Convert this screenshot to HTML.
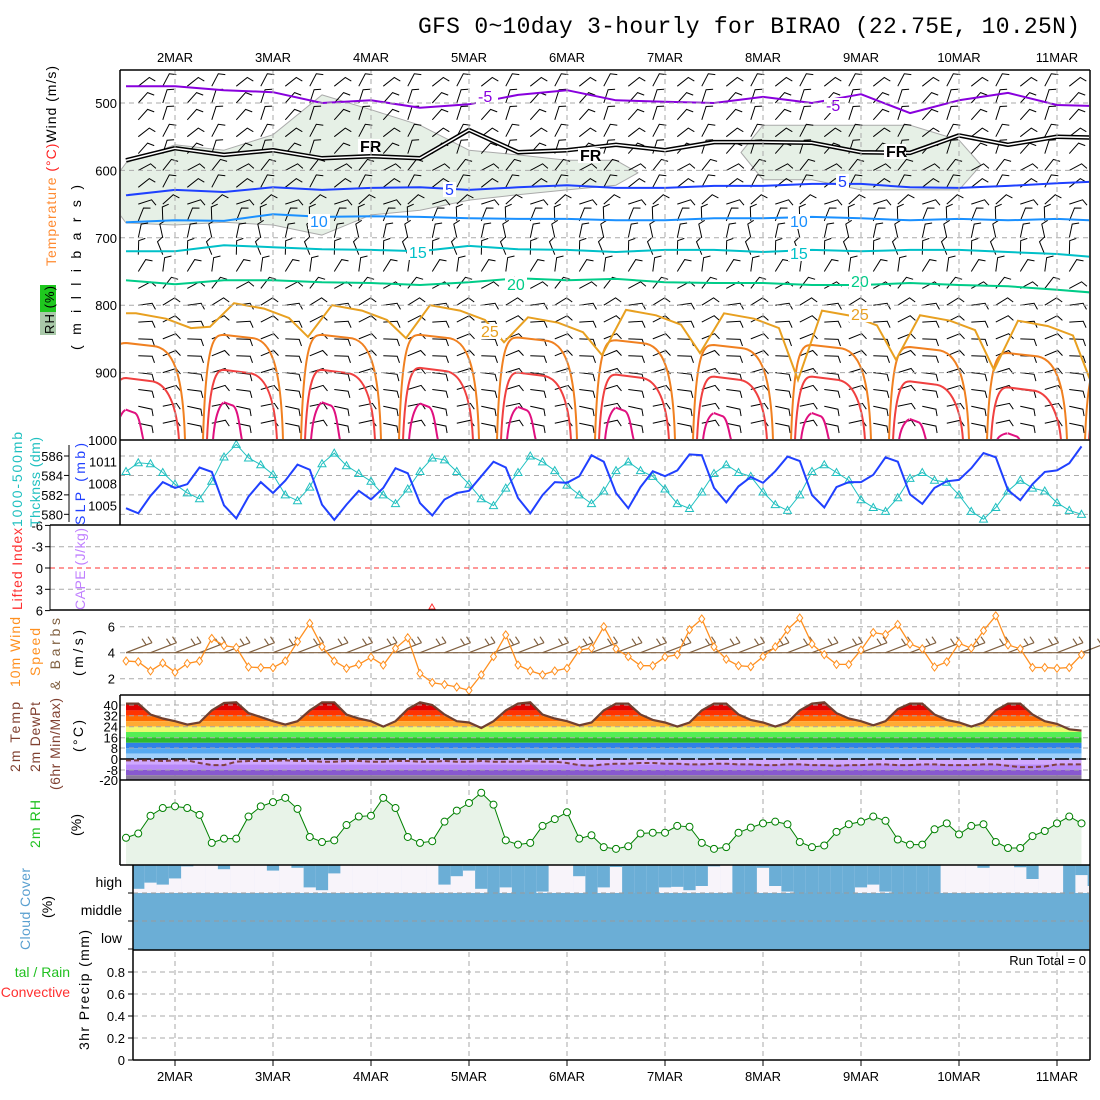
<!DOCTYPE html>
<html><head><meta charset="utf-8"><title>GFS meteogram BIRAO</title>
<style>html,body{margin:0;padding:0;background:#fff;}svg{display:block;}</style></head>
<body>
<svg id="chart" width="1100" height="1100" xmlns="http://www.w3.org/2000/svg" font-family="Liberation Sans, sans-serif" font-size="13">
<rect x="0" y="0" width="1100" height="1100" fill="#fff"/>
<text x="418" y="33" font-family="Liberation Mono, monospace" font-size="23" textLength="662">GFS 0~10day 3-hourly for BIRAO (22.75E, 10.25N)</text>
<defs>
<clipPath id="clipTop"><rect x="121" y="71" width="968" height="368"/></clipPath>
<clipPath id="clipAll"><rect x="121" y="0" width="968" height="1100"/></clipPath>
</defs>
<g id="layer"></g>
<text transform="translate(56,266) rotate(-90)" font-size="14" textLength="200"><tspan fill="#ff8a30">Temperature </tspan><tspan fill="#ff2020">(°C)</tspan><tspan fill="#000">Wind (m/s)</tspan></text>
<rect x="40" y="285" width="16" height="27" fill="#1ec81e"/>
<rect x="40" y="312" width="16" height="23" fill="#a9c9a9"/>
<text transform="translate(54,334) rotate(-90)" font-size="13" textLength="48">RH (%)</text>
<text transform="translate(81,350) rotate(-90)" font-size="14" textLength="165">(millibars)</text>
<text transform="translate(22,527) rotate(-90)" font-size="14" fill="#20c0c0" textLength="95">1000-500mb</text>
<text transform="translate(40,527) rotate(-90)" font-size="14" fill="#20c0c0" textLength="90">Thcknss (dm)</text>
<text transform="translate(85,525) rotate(-90)" font-size="14" fill="#2040ff" textLength="82">SLP (mb)</text>
<text transform="translate(22,610) rotate(-90)" font-size="14" fill="#ff3030" textLength="82">Lifted Index</text>
<text transform="translate(85,610) rotate(-90)" font-size="14" fill="#c080ff" textLength="82">CAPE (J/kg)</text>
<text transform="translate(20,687) rotate(-90)" font-size="14" fill="#ff9020" textLength="70">10m Wind</text>
<text transform="translate(40,676) rotate(-90)" font-size="14" textLength="48"><tspan fill="#ff9020">Speed</tspan></text>
<text transform="translate(60,690) rotate(-90)" font-size="14" fill="#806040" textLength="72">&amp; Barbs</text>
<text transform="translate(83,676) rotate(-90)" font-size="14" textLength="46">(m/s)</text>
<text transform="translate(20,772) rotate(-90)" font-size="14" fill="#804030" textLength="70">2m Temp</text>
<text transform="translate(40,772) rotate(-90)" font-size="14" fill="#804030" textLength="70">2m DewPt</text>
<text transform="translate(60,790) rotate(-90)" font-size="14" fill="#804030" textLength="92">(6hr Min/Max)</text>
<text transform="translate(83,752) rotate(-90)" font-size="14" textLength="32">(°C)</text>
<text transform="translate(40,848) rotate(-90)" font-size="14" fill="#20c020" textLength="48">2m RH</text>
<text transform="translate(81,836) rotate(-90)" font-size="14" textLength="22">(%)</text>
<text transform="translate(30,950) rotate(-90)" font-size="14" fill="#5aa0d0" textLength="82">Cloud Cover</text>
<text transform="translate(52,918) rotate(-90)" font-size="14" textLength="22">(%)</text>
<text x="122" y="887" text-anchor="end" font-size="14">high</text>
<text x="122" y="915" text-anchor="end" font-size="14">middle</text>
<text x="122" y="943" text-anchor="end" font-size="14">low</text>
<text transform="translate(89,1050) rotate(-90)" font-size="14" textLength="120">3hr Precip (mm)</text>
<text x="70" y="977" text-anchor="end" font-size="14" fill="#20c020">tal / Rain</text>
<text x="70" y="997" text-anchor="end" font-size="14" fill="#ff3030">Convective</text>
<text x="1086" y="965" text-anchor="end" font-size="13">Run Total = 0</text>
</svg>
<script>
// ---------- data ----------
const dateLabels = ["2MAR","3MAR","4MAR","5MAR","6MAR","7MAR","8MAR","9MAR","10MAR","11MAR"];
const pressureTicks = [500,600,700,800,900,1000];
const isoM5 = [475,475,481,484,500,496,507,502,488,481,496,498,500,491,500,487,515,496,485,503,505];
const isoFR = [585,567,577,570,582,579,582,540,573,570,562,570,558,558,559,573,574,548,562,550,552];
const iso5  = [637,629,632,625,629,626,625,629,625,622,626,626,623,623,620,620,625,626,623,619,616];
const iso10 = [677,674,675,665,669,668,669,671,672,672,674,674,671,671,669,671,674,672,674,672,675];
const iso15 = [720,720,711,714,717,718,720,712,717,718,721,718,718,721,718,720,718,718,721,724,730];
const iso20 = [763,769,763,763,766,767,770,766,760,763,761,766,767,767,770,770,767,770,772,777,783];
const rhTop = [589,562,570,547,488,510,533,570,577,585,585,0,0,533,533,533,533,555,0,0,0];
const rhBot = [678,681,677,681,696,666,659,644,636,629,622,0,0,614,614,629,629,629,0,0,0];
const arch25Peak = [812,797,800,800,818,807,812,808,815,823,847];
const arch25Dip  = [0,832,847,849,855,874,871,911,881,896,918];
const arch30Top = [856,844,844,844,848,852,859,859,862,871,880];
const arch35Top = [908,896,896,893,900,903,906,906,913,922,935];
const arch40Top = [955,944,944,946,951,952,960,960,969,990,1000];
const barbLevels = [475,500,525,550,575,600,625,650,675,700,725,750,775,800,825,850,875,900,925,950,975];
const barbDir = [40,30,30,40,30,50,40,60,10,0,350,20,50,70,75,80,80,85,85,90,90];
const slp = [1004.6,1003.9,1006.3,1008.2,1007.4,1007.9,1010.2,1009.6,1005,1003.2,1006.2,1008.2,1006.7,1008.4,1010.6,1009.9,1005.1,1003,1005.1,1007,1005.8,1007.4,1010.1,1009.4,1005.3,1003.6,1005.8,1006.7,1007,1009,1011,1010.2,1006,1003.9,1006.4,1008.2,1008.1,1009,1011.9,1011,1006.7,1004.6,1007.5,1009.7,1009,1009.8,1012,1011.9,1007.4,1005.4,1007.6,1008.9,1008.1,1009.7,1011.7,1011.1,1006.4,1004.7,1007.5,1008.2,1008.2,1009.2,1011.6,1011,1006.5,1005.2,1007.4,1008.3,1008.5,1010.1,1012.2,1011.6,1007.1,1005.7,1007.9,1009.6,1009.8,1010.8,1013.1];
const thick = [584.4,585.3,585.2,584.3,583.1,582.2,581.6,583.4,585.9,587.2,585.8,585.1,584.1,582.0,581.4,582.8,585.2,586.3,585,584.2,583.4,582,581.1,582.6,584.4,585.8,585.6,584.4,583.1,581.6,580.9,582.7,584.3,586,585.4,584.5,583,582,581.1,582.4,584.5,585.4,584.5,583.9,582.6,581.1,580.6,582.3,584.2,585.1,584.3,583.9,582.3,581,580.4,582,584.4,585.1,584.3,583.5,581.5,580.7,580.3,581.7,583.7,584.3,583.5,583.3,582,580.3,579.5,580.7,582.4,583.5,582.7,582.4,581.2,580.4,580];
const wspd = [3.36,3.3,2.6,3.2,2.5,3.17,3.36,5.1,4.55,4.4,2.9,2.85,2.85,3.36,4.85,6.26,4.46,3.36,2.8,3.1,3.65,3.05,4.33,5.15,2.4,1.7,1.55,1.36,1.1,2.3,3.7,5.37,3.05,2.6,2.3,2.6,2.8,4.2,4.35,6.0,4.3,3.7,3.0,3.0,3.67,3.85,5.77,6.6,4.45,3.5,3.0,2.93,3.7,4.45,5.77,6.67,4.67,3.85,3.1,3.1,4.2,5.55,5.4,6.17,4.67,4.3,2.9,3.3,4.72,4.35,5.7,6.84,4.6,4.3,2.86,2.86,2.8,2.86,3.85];
const temp2m = [41,41,33,30,28,25.5,27,36,41.5,42,34,31,28,25.5,28,36,42,42,33,30,28,24,28,37,42,40,33,28,27,23,28,36,41,42,33,30,28,25,27,36,41,41,33,29,27,24,27,36,41,41,33,29,27,24,27,36,41,42,34,30,28,25,28,37,41,41,33,29,27,24,27,36,41,41,33,28,26,22,21];
const dewpt = [-1,-1,-1,-1.5,-1,-1,-3,-4.5,-4.5,-2,-1.5,-1.5,-1.5,-1,-1.5,-1.5,-2,-2,-1.5,-1.5,-2,-2,-1.5,-1.5,-2,-2,-1.5,-2,-2,-1.5,-2,-2,-2,-1.5,-2,-2,-3,-4.5,-5,-4,-3.5,-3.5,-3,-3,-3.5,-3.5,-4,-4,-3.5,-3.5,-4,-4,-4.5,-4.5,-4,-4,-4.5,-4.5,-5,-4.5,-4.5,-4,-4,-4.5,-4.5,-4,-4,-4.5,-4.5,-4.5,-4,-4,-5,-6,-6,-5.5,-4,-4,-4];
const rh2m = [32,37,58,67,69,67,59,26,31,31,57,69,74,79,66,33,27,29,47,57,58,79,67,33,26,28,51,64,73,85,71,29,24,26,46,54,62,31,35,21,19,22,37,38,38,46,45,26,19,21,38,44,49,51,48,27,21,23,39,48,51,57,52,30,24,24,42,49,36,46,48,27,20,20,34,40,49,57,49];
const highCloud = [85,85,63,70,48,5,0,0,15,0,0,0,20,0,10,80,90,30,0,0,0,0,0,0,0,0,70,40,20,85,100,80,100,100,95,0,0,40,100,80,7,100,100,100,80,78,90,75,5,0,100,100,10,75,95,100,100,100,100,100,80,70,95,100,100,100,100,0,0,0,10,0,0,8,50,0,0,100,36,75];
const slpTicks = [1005,1008,1011];
const thickTicks = [580,582,584,586];
const liTicks = [-6,-3,0,3,6];
const windTicks = [2,4,6];
const tempTicks = [[40,705],[32,715.7],[24,726.7],[16,737.7],[8,748],[0,759],[-8,770],[-20,780]];
const precipTicks = [0,0.2,0.4,0.6,0.8];
const tempBands = [[40,60,"#b00000"],[36,40,"#e00000"],[32,36,"#ff3300"],[28,32,"#ff6a00"],[24,28,"#ffaa33"],[20,24,"#f0f870"],[16,20,"#55ee55"],[12,16,"#2dbb2d"],[8,12,"#3080e8"],[4,8,"#55a8f0"],[0,4,"#a0d0fa"],[-4,0,"#d0a8ff"],[-8,-4,"#b888f8"],[-12,-8,"#8858d0"],[-30,-12,"#8a7a9a"]];

// ---------- scales ----------
const X = i => 126 + 12.25*i;
const yP = p => 103 + (p-500)*0.674;
const ySlp = v => 461.7 - (v-1011)*7.27;
const yTh = t => 456 + (586-t)*9.72;
const yLI = v => 568 + v*7.1;
const yW = v => 704.7 - 13*v;
const yT = t => 759 - 1.35*t;
const yRH = r => 865 - 0.85*r;
const yPr = v => 1060 - 110*v;
const dateX = k => 175 + 98*k;

const NS = "http://www.w3.org/2000/svg";
const layer = document.getElementById('layer');
function mk(tag, attrs, parent){ const e=document.createElementNS(NS,tag); for(const k in attrs) e.setAttribute(k,attrs[k]); (parent||layer).appendChild(e); return e; }
const pts = (arr, fy, fx) => arr.map((v,i)=> (fx?fx(i):X(i)).toFixed(1)+","+fy(v).toFixed(1)).join(" ");

// ---------- top panel ----------
const topG = mk('g',{'clip-path':'url(#clipTop)'});


let kk=0;
while(kk<rhTop.length){
  if(rhTop[kk]>0){
    let k1=kk; while(k1+1<rhTop.length && rhTop[k1+1]>0) k1++;
    const up=[], dn=[];
    const xs = j=>X(j*4);
    up.push([xs(kk)-22,(yP(rhTop[kk])+yP(rhBot[kk]))/2]);
    for(let j=kk;j<=k1;j++){ up.push([xs(j),yP(rhTop[j])]); dn.unshift([xs(j),yP(rhBot[j])]); }
    up.push([xs(k1)+22,(yP(rhTop[k1])+yP(rhBot[k1]))/2]);
    const poly = mk('polygon',{points:up.concat(dn).map(p=>p[0].toFixed(1)+","+p[1].toFixed(1)).join(" "),fill:"#e6f0e6",stroke:"#aaaaaa","stroke-width":1,"stroke-linejoin":"round"},topG);
    
    
    kk=k1+1;
  } else kk++;
}
pressureTicks.forEach(p=>{ if(p<1000){ const g=mk('line',{x1:120,x2:1090,y1:yP(p),y2:yP(p),stroke:"#aaa","stroke-dasharray":"5,4"});
    }});
const barbs = mk('g',{stroke:"#000","stroke-width":1,fill:"none"},topG);


for(let i=1;i<79;i+=2){
  barbLevels.forEach((L,li)=>{
    const d = (barbDir[li] + ((i%4===1)?12:-12))*Math.PI/180;
    const x0=X(i), y0=yP(L), len=14;
    const dx=Math.sin(d)*len, dy=-Math.cos(d)*len;
    const x1=x0+dx, y1=y0+dy;
    const bx=x1+Math.sin(d+1.2)*7, by=y1-Math.cos(d+1.2)*7;
    mk('path',{d:`M${x0.toFixed(1)},${y0.toFixed(1)}L${x1.toFixed(1)},${y1.toFixed(1)}L${bx.toFixed(1)},${by.toFixed(1)}`},barbs);
  });
}
function archPath(arr, l, r, color, w, name){
  const g = mk('g',{fill:"none",stroke:color,"stroke-width":w},topG);
  
  
  arr.forEach((p,d)=>{
    if(p>=1000) return;
    const c=X(8*d), ty=yP(p);
    mk('path',{d:`M${c-l},440 C${c-l+3},${ty} ${c-l+12},${ty} ${c},${ty} L${c+r*0.45},${ty+3} C${c+r*0.8},${ty+4} ${c+r-2},${ty+30} ${c+r},440`},g);
  });
}
archPath(arch30Top,21,59,"#f08020",2,'isotherm-30-arches');
archPath(arch35Top,17,53,"#f04040",2,'isotherm-35-arches');
archPath(arch40Top,11,18,"#e0107f",2,'isotherm-40-arches');
(function(){
  let d = `M${X(0)},${yP(arch25Peak[0])}`;
  arch25Peak.forEach((p,k)=>{
    const c=X(8*k);
    if(arch25Dip[k]>0) d+=` L${c-14},${yP(arch25Dip[k]).toFixed(1)}`;
    d+=` L${c+10},${yP(p).toFixed(1)} L${c+40},${yP(p+8).toFixed(1)} L${c+65},${yP(p+22).toFixed(1)}`;
  });
  const e=mk('path',{d:d,fill:"none",stroke:"#e8a020","stroke-width":2},topG);
  
  
})();
function iso(arr,color,name,w){
  const e=mk('polyline',{points:pts(arr,yP,j=>X(4*j)),fill:"none",stroke:color,"stroke-width":w||2,"stroke-linejoin":"round"},topG);
  
  
  return e;
}
iso(isoM5,"#8800dd",'isotherm-minus5');
iso(isoFR,"#000",'freezing-level',4.5);
iso(isoFR,"#fff",'freezing-level-core',1.5);
iso(iso5,"#1e40ff",'isotherm-5');
iso(iso10,"#1a90ff",'isotherm-10');
iso(iso15,"#00c0c8",'isotherm-15');
iso(iso20,"#00cc88",'isotherm-20');
[["-5",478,102,"#8800dd"],["-5",826,111,"#8800dd"],["FR",360,152,"#000"],["FR",580,161,"#000"],["FR",886,157,"#000"],["5",445,195,"#1e40ff"],["5",838,187,"#1e40ff"],["10",310,227,"#1a90ff"],["10",790,227,"#1a90ff"],["15",409,258,"#00c0c8"],["15",790,259,"#00c0c8"],["20",507,290,"#00cc88"],["20",851,287,"#00cc88"],["25",481,337,"#e8a020"],["25",851,320,"#e8a020"]].forEach(l=>{
  const bg=mk('rect',{x:l[1]-2,y:l[2]-13,width:l[0].length*9+4,height:15,fill:"#fff"},topG);
   
  const t=mk('text',{x:l[1],y:l[2],fill:l[3],"font-size":16,"font-weight":l[0]==="FR"?"bold":"normal"},topG);
  t.textContent=l[0];
   
});
pressureTicks.forEach(p=>{ const t=mk('text',{x:117,y:yP(p)+5,"text-anchor":"end","font-size":13}); t.textContent=p;
    });

// ---------- vertical date grid ----------
dateLabels.forEach((d,k)=>{
  const g=mk('line',{x1:dateX(k),x2:dateX(k),y1:70,y2:1060,stroke:"#aaa","stroke-dasharray":"5,4"});
   
  const t1=mk('text',{x:dateX(k),y:62,"text-anchor":"middle","font-size":13}); t1.textContent=d;
   
  const t2=mk('text',{x:dateX(k),y:1081,"text-anchor":"middle","font-size":13}); t2.textContent=d;
   
  mk('line',{x1:dateX(k),x2:dateX(k),y1:1060,y2:1066,stroke:"#000"});
});

// ---------- thickness / SLP ----------
thickTicks.forEach(t=>{ const g=mk('line',{x1:120,x2:1090,y1:yTh(t),y2:yTh(t),stroke:"#aaa","stroke-dasharray":"5,4"});
   
  const l=mk('text',{x:63,y:yTh(t)+5,"text-anchor":"end"}); l.textContent=t;
   
  mk('line',{x1:64,x2:69,y1:yTh(t),y2:yTh(t),stroke:"#000"}); });
mk('line',{x1:69,x2:69,y1:445,y2:522,stroke:"#000"});
slpTicks.forEach(v=>{ const l=mk('text',{x:117,y:ySlp(v)+5,"text-anchor":"end"}); l.textContent=v;
    });
(function(){
  const th=mk('polyline',{points:pts(thick,yTh),fill:"none",stroke:"#20c0c0","stroke-width":1});
   
  thick.forEach((v,i)=>{ const m=mk('path',{d:`M${X(i)},${yTh(v)-4}l4,7h-8z`,fill:"none",stroke:"#20c0c0"});
      });
  const s=mk('polyline',{points:pts(slp,ySlp),fill:"none",stroke:"#2040ff","stroke-width":2});
   
})();

// ---------- lifted index ----------
liTicks.forEach(v=>{ if(v!==-6&&v!==6){ const g=mk('line',{x1:50,x2:1090,y1:yLI(v),y2:yLI(v),stroke:v===0?"#ff3030":"#aaa","stroke-dasharray":"5,4"});
    }
  const l=mk('text',{x:43,y:yLI(v)+5,"text-anchor":"end"}); l.textContent=v===0?"0":(v<0?"-"+(-v):v);
   
  mk('line',{x1:45,x2:50,y1:yLI(v),y2:yLI(v),stroke:"#000"}); });
mk('line',{x1:50,x2:50,y1:525,y2:610,stroke:"#000"});
mk('path',{d:"M432,604l3,5h-6z",fill:"none",stroke:"#ff3030"});

// ---------- 10m wind ----------
windTicks.forEach(v=>{ const g=mk('line',{x1:120,x2:1090,y1:yW(v),y2:yW(v),stroke:"#aaa","stroke-dasharray":"5,4"});
   
  const l=mk('text',{x:115,y:yW(v)+5,"text-anchor":"end"}); l.textContent=v;
    });
(function(){
  const g=mk('g',{stroke:"#806040","stroke-width":1.2,fill:"none"});
   
  mk('line',{x1:126,x2:1090,y1:yW(4),y2:yW(4)},g);
  for(let i=0;i<79;i+=2){
    const x0=X(i), y0=yW(4);
    mk('path',{d:`M${x0},${y0}L${x0+26},${y0-10}M${x0+26},${y0-10}l-4,-6M${x0+20},${y0-8}l-4,-6`},g);
  }
  const l=mk('polyline',{points:pts(wspd,yW),fill:"none",stroke:"#ff9020","stroke-width":1.3});
   
  wspd.forEach((v,i)=>{ const m=mk('path',{d:`M${X(i)},${yW(v)-4}l3,4l-3,4l-3,-4z`,fill:"#fff",stroke:"#ff9020"});
      });
})();

// ---------- 2m temperature ----------
(function(){
  const poly = temp2m.map((t,i)=>X(i).toFixed(1)+","+yT(t).toFixed(1)).join(" ")+` ${X(78)},780 ${X(0)},780`;
  const cp=mk('clipPath',{id:"clipT"}); mk('polygon',{points:poly},cp);
  const g=mk('g',{'clip-path':'url(#clipT)'});
   
  tempBands.forEach(b=>{ mk('rect',{x:120,y:yT(b[1]),width:970,height:yT(b[0])-yT(b[1]),fill:b[2]},g); });
  tempTicks.forEach(t=>{ const gl=mk('line',{x1:120,x2:1090,y1:t[1],y2:t[1],stroke:"#aaa","stroke-dasharray":"5,4"});
     
    const l=mk('text',{x:118,y:t[1]+5,"text-anchor":"end"}); l.textContent=t[0];
      });
  mk('line',{x1:120,x2:1090,y1:yT(0),y2:yT(0),stroke:"#000","stroke-width":1.5,"stroke-dasharray":"14,3"});
  const tl=mk('polyline',{points:pts(temp2m,yT),fill:"none",stroke:"#704030","stroke-width":2.2});
   
  const dl=mk('polyline',{points:pts(dewpt,yT),fill:"none",stroke:"#804040","stroke-width":2,"stroke-dasharray":"5,3"});
   
})();

// ---------- 2m RH ----------
(function(){
  const area=mk('polygon',{points:pts(rh2m,yRH)+` ${X(78)},865 ${X(0)},865`,fill:"#e8f3e8"});
   
  const l=mk('polyline',{points:pts(rh2m,yRH),fill:"none",stroke:"#008000","stroke-width":1});
   
  rh2m.forEach((v,i)=>{ const m=mk('circle',{cx:X(i),cy:yRH(v),r:3.5,fill:"#fff",stroke:"#008000"});
      });
})();

// ---------- cloud cover ----------
(function(){
  const g=mk('g',{'clip-path':'url(#clipAll)'});
   
  const bg=mk('rect',{x:133,y:865,width:957,height:85,fill:"#6baed6"},g);
   
  highCloud.forEach((c,i)=>{
    const x0=Math.max(133,X(i)-6.125), x1=Math.min(1090,X(i)+6.125);
    if(x1<=x0) return;
    const r=mk('rect',{x:x0,y:865,width:x1-x0+0.3,height:28,fill:"#f8f4fa"},g);
     
    const b=mk('rect',{x:x0,y:865,width:x1-x0+0.3,height:28*c/100,fill:"#6baed6"},g);
     
  });
  [893,921].forEach(y=>mk('line',{x1:133,x2:1090,y1:y,y2:y,stroke:"#999","stroke-dasharray":"5,4"},g));
  [865,893,921,949].forEach(y=>mk('line',{x1:128,x2:133,y1:y,y2:y,stroke:"#000"}));
})();

// ---------- precip ----------
precipTicks.forEach(v=>{ if(v>0){ const g=mk('line',{x1:133,x2:1090,y1:yPr(v),y2:yPr(v),stroke:"#aaa","stroke-dasharray":"5,4"});
    }
  const l=mk('text',{x:125,y:yPr(v)+5,"text-anchor":"end"}); l.textContent=v;
   
  mk('line',{x1:128,x2:133,y1:yPr(v),y2:yPr(v),stroke:"#000"}); });

// ---------- frames ----------
[[120,70,1090,70],[120,70,120,525],[1090,70,1090,1060],[120,440,1090,440],[50,525,1090,525],[50,610,1090,610],[120,695,1090,695],[120,695,120,865],[120,780,1090,780],[120,865,1090,865],[133,865,133,1060],[133,950,1090,950],[133,1060,1090,1060]].forEach(s=>{
  const l=mk('line',{x1:s[0],y1:s[1],x2:s[2],y2:s[3],stroke:"#000","stroke-width":1.5});
   
});
</script>
</body></html>
